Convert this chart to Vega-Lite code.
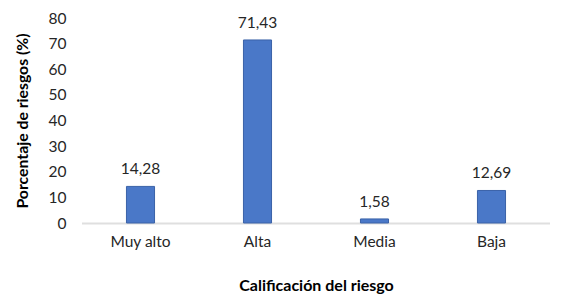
{
  "$schema": "https://vega.github.io/schema/vega-lite/v6.json",
  "autosize": "none",
  "width": 468,
  "height": 205,
  "padding": {"left": 82, "top": 18, "right": 20, "bottom": 79},
  "background": "white",
  "config": {
    "view": {"stroke": null},
    "font": "Lato",
    "locale": {"number": {"decimal": ",", "thousands": ".", "grouping": [3], "currency": ["", " €"]}}
  },
  "data": {"values": [
    {"cat": "Muy alto", "val": 14.28},
    {"cat": "Alta", "val": 71.43},
    {"cat": "Media", "val": 1.58},
    {"cat": "Baja", "val": 12.69}
  ]},
  "encoding": {
    "x": {"field": "cat", "type": "nominal", "sort": null,
      "scale": {"paddingInner": 0.76, "paddingOuter": 0.38},
      "axis": {"title": "Calificación del riesgo", "labelAngle": 0, "labelFontSize": 15.5, "labelColor": "#262626",
        "titleFontSize": 16, "titleFontWeight": "bold", "titleColor": "#000000", "titlePadding": 28,
        "labelPadding": 11, "ticks": false, "domainColor": "#bfbfbf", "domainDash": [1, 1], "domainWidth": 2}},
    "y": {"field": "val", "type": "quantitative",
      "scale": {"domain": [0, 80]},
      "axis": {"title": "Porcentaje de riesgos (%)", "values": [0,10,20,30,40,50,60,70,80], "grid": false, "domain": false, "ticks": false,
        "labelFontSize": 15.5, "labelColor": "#262626", "labelPadding": 16,
        "titleFontSize": 15.8, "titleFontWeight": "bold", "titleColor": "#000000", "titlePadding": 18}}
  },
  "layer": [
    {"mark": {"type": "bar", "color": "#4a78c8", "stroke": "#3a62a8", "strokeWidth": 1}},
    {"mark": {"type": "text", "baseline": "bottom", "dy": -9, "fontSize": 15.5, "color": "#262626"},
     "encoding": {"text": {"field": "val", "type": "quantitative", "format": ".2f"}}}
  ]
}
